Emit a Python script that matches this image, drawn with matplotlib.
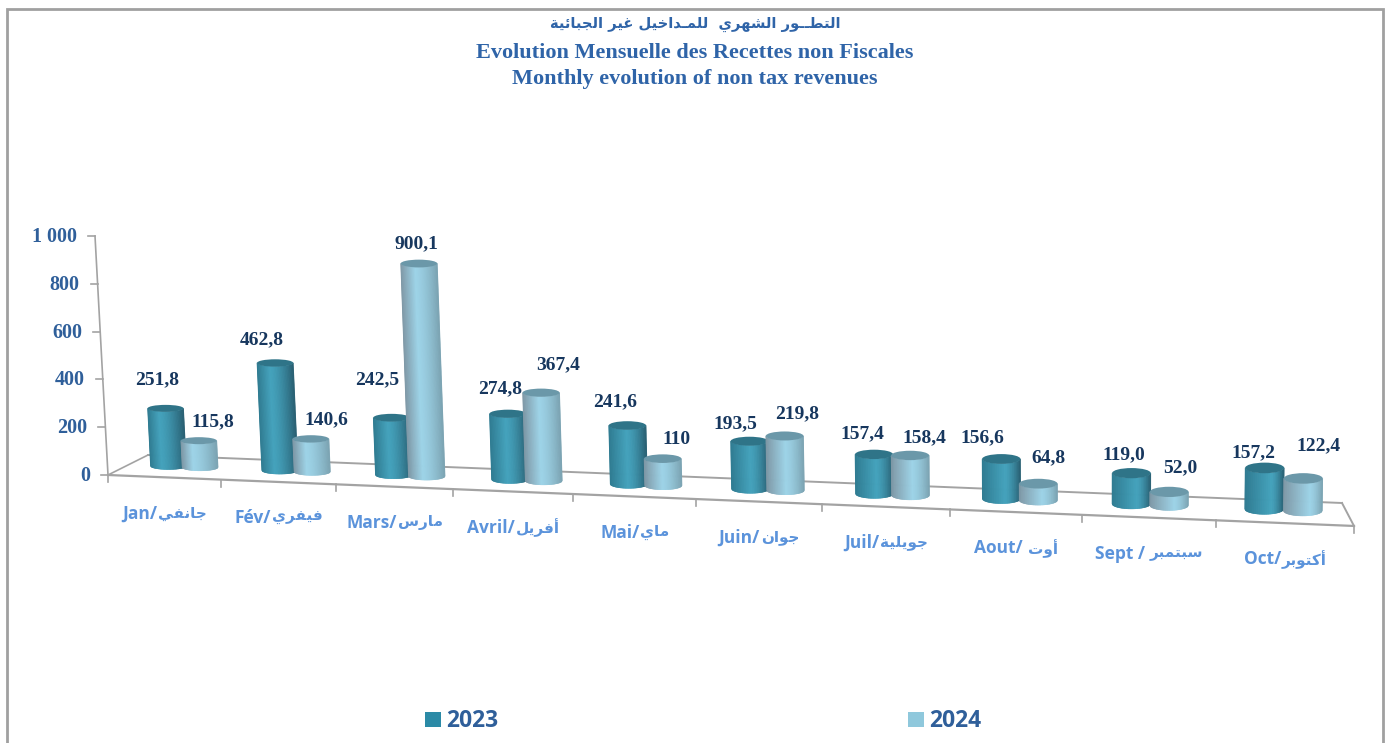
"""Monthly non tax revenues, drawn as pseudo-3D cylinders in pixel space."""

import numpy as np
import matplotlib

matplotlib.use("Agg")
import matplotlib.pyplot as plt  # noqa: E402
from matplotlib.collections import PolyCollection  # noqa: E402
from matplotlib.patches import Ellipse, Rectangle  # noqa: E402

MONTHS_LATIN = ["Jan/", "Fév/", "Mars/", "Avril/", "Mai/", "Juin/", "Juil/", "Aout/ ", "Sept / ", "Oct/"]
MONTHS_AR = ["جانفي", "فيفري", "مارس", "أفريل", "ماي", "جوان", "جويلية", "أوت", "سبتمبر", "أكتوبر"]
VALUES_2023 = [251.8, 462.8, 242.5, 274.8, 241.6, 193.5, 157.4, 156.6, 119.0, 157.2]
VALUES_2024 = [115.8, 140.6, 900.1, 367.4, 110, 219.8, 158.4, 64.8, 52.0, 122.4]
LABELS_2023 = ["251,8", "462,8", "242,5", "274,8", "241,6", "193,5", "157,4", "156,6", "119,0", "157,2"]
LABELS_2024 = ["115,8", "140,6", "900,1", "367,4", "110", "219,8", "158,4", "64,8", "52,0", "122,4"]
YTICKS = [0, 200, 400, 600, 800, 1000]
YTICK_LABELS = ["0", "200", "400", "600", "800", "1 000"]
TITLE_AR = "التطــور الشهري  للمـداخيل غير الجبائية"
TITLE_FR = "Evolution Mensuelle des Recettes non Fiscales"
TITLE_EN = "Monthly evolution of non tax revenues"

# hand placed in the original, so hand placed here too (px)
POS_2023 = [(157, 380), (262, 340), (377, 380), (500, 389), (615, 402),
            (735, 424), (862, 434), (982, 438), (1124, 455), (1253, 453)]
POS_2024 = [(213, 422), (326, 420), (416, 244), (558, 365), (676, 439),
            (797, 414), (924, 438), (1048, 458), (1180, 468), (1319, 446)]

BLUE = "#2F64A8"
NAVY = "#17375E"
LABEL_BLUE = "#5B93DB"
GREY = "#A3A3A3"
SERIF = ["Liberation Serif", "DejaVu Serif"]

# isolated form of each letter in the FExx block; 4 forms unless listed in NON_JOIN
AR_FORMS = {"ا": 0xFE8D, "أ": 0xFE83, "ب": 0xFE8F, "ة": 0xFE93, "ت": 0xFE95, "ج": 0xFE9D, "خ": 0xFEA5,
            "د": 0xFEA9, "ر": 0xFEAD, "س": 0xFEB1, "ش": 0xFEB5, "ط": 0xFEC1, "غ": 0xFECD, "ف": 0xFED1,
            "ك": 0xFED9, "ل": 0xFEDD, "م": 0xFEE1, "ن": 0xFEE5, "ه": 0xFEE9, "و": 0xFEED, "ي": 0xFEF1,
            "ئ": 0xFE89}
NON_JOIN = set("اأةدرو")


def shape_ar(text):
    # matplotlib does no Arabic shaping: pick the joined forms, then lay out right to left
    out = []
    for i, ch in enumerate(text):
        if ch not in AR_FORMS:
            out.append(ch)
            continue
        prev = text[i - 1] if i else " "
        nxt = text[i + 1] if i + 1 < len(text) else " "
        joins_prev = (prev in AR_FORMS or prev == "ـ") and prev not in NON_JOIN
        joins_next = (nxt in AR_FORMS or nxt == "ـ") and ch not in NON_JOIN
        form = {(False, False): 0, (True, False): 1, (False, True): 2, (True, True): 3}[(joins_prev, joins_next)]
        out.append(chr(AR_FORMS[ch] + form))
    return "".join(out)[::-1]


def month_x(u):
    return (108 + 110.2 * u) / (1 - 0.01064 * u)


def floor_y(x):
    return 475 + 0.0409 * (x - 108)


def back_y(x):
    return 455 + 0.0402 * (x - 148)


def lean(x):
    return -0.054 + 5.5e-5 * (x - 108)


def cylinder(ax, i, j, value, stops, top_col):
    u = i + 0.54 - 0.021 * i + 0.28 * j
    cx = month_x(u)
    rx = 18 + 0.17 * i
    ry = 3.5 + 0.2 * i
    yb = floor_y(cx) - 8 - ry
    h = value * 0.227 / (1 - 0.014 * u)
    dx = lean(cx) * h
    yt = yb - h

    # shaded body, thin strips across the width
    peak = 0.32 + 0.04 * i
    edges = np.linspace(-1, 1, 61)
    polys, cols = [], []
    rgb = [np.array(matplotlib.colors.to_rgb(c)) for c in stops]
    for a, b in zip(edges[:-1], edges[1:]):
        ya, yc = ry * np.sqrt(1 - a * a), ry * np.sqrt(1 - b * b)
        polys.append([(cx + rx * a + dx, yt + ya), (cx + rx * b + dx, yt + yc),
                      (cx + rx * b, yb + yc), (cx + rx * a, yb + ya)])
        t = (a + b) / 4 + 0.5
        if t < peak:
            c = rgb[0] + (rgb[1] - rgb[0]) * t / peak
        else:
            c = rgb[1] + (rgb[2] - rgb[1]) * ((t - peak) / (1 - peak)) ** 1.5
        cols.append(c)
    ax.add_collection(PolyCollection(polys, facecolors=cols, edgecolors=cols, linewidths=0.4, zorder=5 + i + j * 0.5))
    ax.add_patch(Ellipse((cx + dx, yt), 2 * rx, 2 * ry, fc=top_col, ec="none", zorder=5 + i + j * 0.5))


fig = plt.figure(figsize=(13.92, 7.43), dpi=100, facecolor="white")
ax = fig.add_axes([0, 0, 1, 1])
ax.set_xlim(0, 1392)
ax.set_ylim(743, 0)
ax.axis("off")

# page frame, open at the bottom
ax.plot([6.5, 6.5, 1383, 1383], [743, 8.5, 8.5, 743], color="#A0A0A0", lw=2, solid_joinstyle="miter")

# axes box
xs = np.array([108, 1354])
ax.plot(xs, floor_y(xs), color=GREY, lw=1.6, zorder=2)
xs = np.array([148, 1342])
ax.plot(xs, back_y(xs), color=GREY, lw=1.4, zorder=2)
ax.plot([108, 148], [floor_y(108), back_y(148)], color=GREY, lw=1.2, zorder=2)
ax.plot([1342, 1354], [back_y(1342), floor_y(1354)], color=GREY, lw=1.4, zorder=2)
for k in range(11):
    x = month_x(k)
    ax.plot([x, x], [floor_y(x), floor_y(x) + 7], color=GREY, lw=1.2, zorder=2)

# value axis leans towards the vanishing point
for v, lab in zip(YTICKS, YTICK_LABELS):
    px = 108 - 13 * v / 1000
    py = floor_y(108) - 239 * v / 1000
    ax.plot([px - 7, px], [py, py], color=GREY, lw=1.2, zorder=2)
    ax.text(px - 18, py + 1, lab, ha="right", va="center", fontsize=14.5, fontweight="bold",
            family=SERIF, color="#2F5F9A")
ax.plot([95, 108], [floor_y(108) - 239, floor_y(108)], color=GREY, lw=1.2, zorder=2)

for i in range(len(VALUES_2023)):
    cylinder(ax, i, 0, VALUES_2023[i], ["#2E7A90", "#44A2BC", "#285F72"], "#2F7488")
    cylinder(ax, i, 1, VALUES_2024[i], ["#7E97A5", "#9DD3E7", "#7BA3B2"], "#6B98A9")

for lab, (x, y) in zip(LABELS_2023 + LABELS_2024, POS_2023 + POS_2024):
    ax.text(x, y, lab, ha="center", va="center", fontsize=14, fontweight="bold",
            family=SERIF, color=NAVY, zorder=40)

# latin and arabic parts sized apart, then centred together under the month
renderer = fig.canvas.get_renderer()
for i, (lat, ar) in enumerate(zip(MONTHS_LATIN, MONTHS_AR)):
    x = month_x(i + 0.5)
    y = floor_y(x) + 36
    t1 = ax.text(x, y, lat, ha="left", va="center", fontsize=12.5, fontweight="bold",
                 family=["Open Sans", "DejaVu Sans"], color=LABEL_BLUE)
    t2 = ax.text(x, y, shape_ar(ar), ha="left", va="center", fontsize=11, fontweight="bold",
                 family=["DejaVu Sans"], color=LABEL_BLUE)
    w1 = t1.get_window_extent(renderer).width
    w2 = t2.get_window_extent(renderer).width
    t1.set_x(x - (w1 + w2) / 2)
    t2.set_x(x - (w1 + w2) / 2 + w1 + 1)

# titles
ax.text(695, 24, shape_ar(TITLE_AR), ha="center", va="center", fontsize=10.6, fontweight="bold",
        family=["DejaVu Sans"], color=BLUE)
ax.text(695, 53, TITLE_FR, ha="center", va="center", fontsize=16, fontweight="bold", family=SERIF, color=BLUE)
ax.text(695, 79, TITLE_EN, ha="center", va="center", fontsize=16, fontweight="bold", family=SERIF, color=BLUE)

# legend
for x0, col, lab in [(425, "#2B8AA6", "2023"), (908, "#8FC8DC", "2024")]:
    ax.add_patch(Rectangle((x0, 712), 16, 15, fc=col, ec="none"))
    ax.text(x0 + 21, 721, lab, ha="left", va="center", fontsize=16.5, fontweight="bold",
            family=["Open Sans", "DejaVu Sans"], color="#2F5F9A")

fig.savefig("out.png", dpi=100)
